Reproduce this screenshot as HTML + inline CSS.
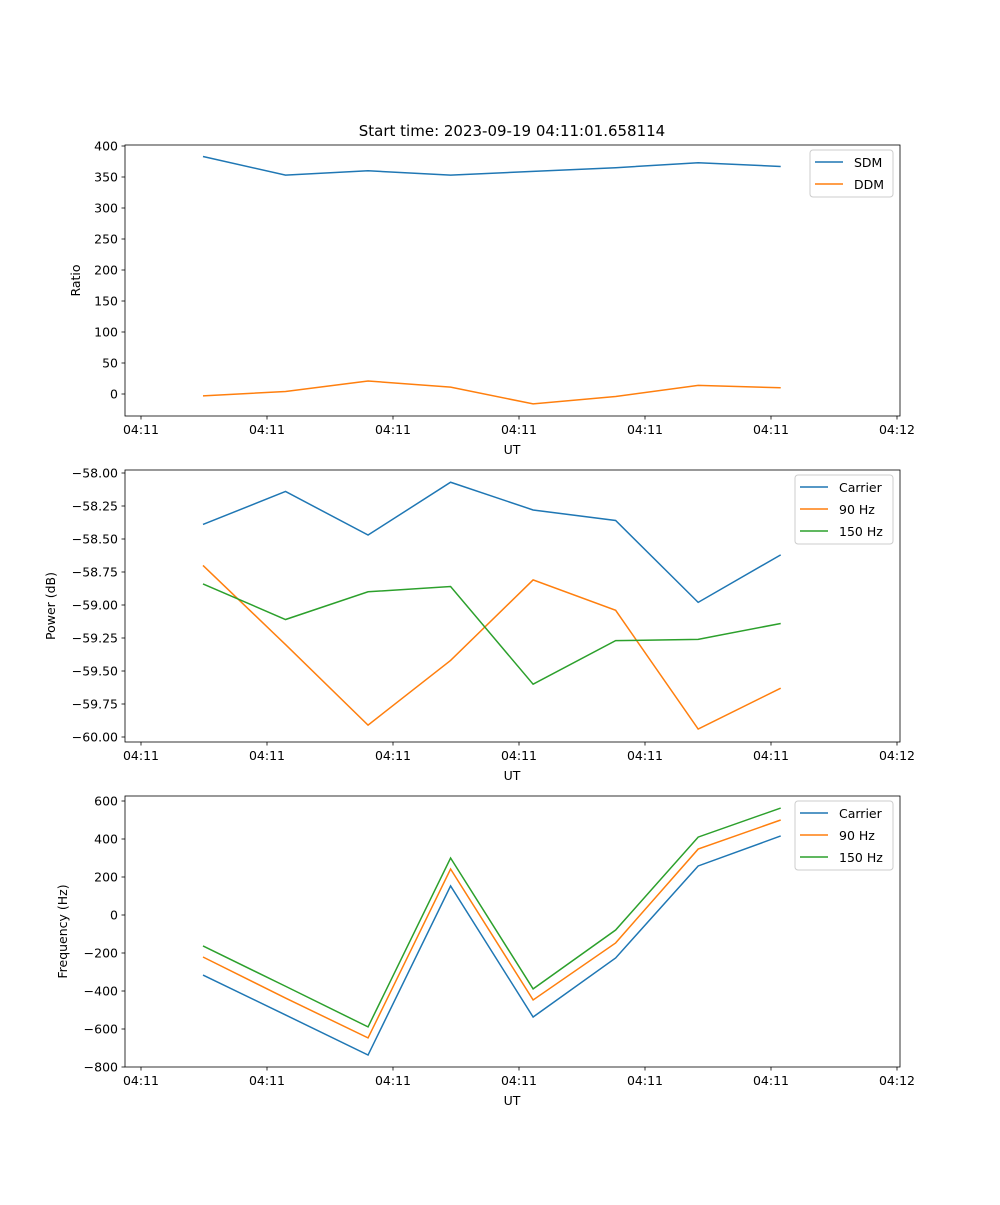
<!DOCTYPE html>
<html><head><meta charset="utf-8"><style>
body{margin:0;background:#fff}
svg text{font-family:"DejaVu Sans","Liberation Sans",sans-serif;font-size:12.5px;fill:#000}
</style></head><body>
<svg id="fig" width="1000" height="1200"></svg>
<script>
const xTickVals=[0,10,20,30,40,50,60];
const xTickLabels=["04:11","04:11","04:11","04:11","04:11","04:11","04:12"];
const times=[4.92,11.47,18.02,24.57,31.12,37.67,44.22,50.77];
const sdm=[383,353,360,353,359,365,373,367];
const ddm=[-3,4,21,11,-16,-4,14,10];
const powCarrier=[-58.39,-58.14,-58.47,-58.07,-58.28,-58.36,-58.98,-58.62];
const pow90=[-58.70,-59.30,-59.91,-59.42,-58.81,-59.04,-59.94,-59.63];
const pow150=[-58.84,-59.11,-58.90,-58.86,-59.60,-59.27,-59.26,-59.14];
const freqCarrier=[-316,-526,-737,153,-537,-226,258,416];
const freq90=[-221,-437,-647,242,-447,-147,347,500];
const freq150=[-163,-375,-589,300,-389,-79,410,563];
const ratioTicks=[0,50,100,150,200,250,300,350,400];
const powTicks=[-60,-59.75,-59.5,-59.25,-59,-58.75,-58.5,-58.25,-58];
const freqTicks=[-800,-600,-400,-200,0,200,400,600];

const NS="http://www.w3.org/2000/svg";
const svg=document.getElementById('fig');
function mk(tag,attrs,parent,txt){const e=document.createElementNS(NS,tag);for(const k in attrs)e.setAttribute(k,attrs[k]);if(txt!==undefined)e.textContent=txt;(parent||svg).appendChild(e);return e;}
const L=125,R=900;
const xs=t=>141+t*12.6;
function panel(name,top,bot,v0,p0,v1,p1,ticks,fmt,ylabel,ylx,series,legend){
  const g=mk('g',{});
  
  
  const ys=v=>p0+(v-v0)*(p1-p0)/(v1-v0);
  ticks.forEach(v=>{const y=ys(v);
    const l=mk('line',{x1:L-3.5,x2:L,y1:y,y2:y,stroke:'#000','stroke-width':0.8},g);
    
    const t=mk('text',{x:L-7,y:y+4.5,'text-anchor':'end'},g,fmt(v));
    });
  xTickVals.forEach((v,i)=>{const x=xs(v);
    const l=mk('line',{x1:x,x2:x,y1:bot,y2:bot+3.5,stroke:'#000','stroke-width':0.8},g);
    
    const t=mk('text',{x:x,y:bot+18,'text-anchor':'middle'},g,xTickLabels[i]);
    });
  series.forEach(s=>{
    const p=mk('polyline',{points:s.d.map((v,i)=>xs(times[i])+','+ys(v)).join(' '),fill:'none',stroke:s.c,'stroke-width':1.5},g);
    
    });
  const fr=mk('rect',{x:L,y:top,width:R-L,height:bot-top,fill:'none',stroke:'#000','stroke-width':0.8},g);
  
  const ux=mk('text',{x:512,y:bot+38,'text-anchor':'middle'},g,'UT');
  
  const yl=mk('text',{x:ylx,y:(top+bot)/2,'text-anchor':'middle',transform:`rotate(-90 ${ylx} ${(top+bot)/2})`},g,ylabel);
  
  const lg=mk('g',{},g);
  
  mk('rect',{x:legend.x,y:top+5,width:893-legend.x,height:series.length*22+3,rx:3,fill:'#fff',stroke:'#ccc','stroke-width':1},lg);
  series.forEach((s,i)=>{const y=top+17+i*22;
    const e=mk('g',{},lg);
    
    mk('line',{x1:legend.x+5,x2:legend.x+33,y1:y,y2:y,stroke:s.c,'stroke-width':1.5},e);
    mk('text',{x:legend.x+44,y:y+5},e,s.n);});
}
const C1='#1f77b4',C2='#ff7f0e',C3='#2ca02c';
panel('ratio',145,416,0,394,400,146,ratioTicks,v=>String(v),'Ratio',80,
  [{n:'SDM',d:sdm,c:C1},{n:'DDM',d:ddm,c:C2}],{x:810});
panel('power',470,742,-58,473,-60,737,powTicks,v=>'\u2212'+Math.abs(v).toFixed(2),'Power (dB)',55,
  [{n:'Carrier',d:powCarrier,c:C1},{n:'90 Hz',d:pow90,c:C2},{n:'150 Hz',d:pow150,c:C3}],{x:795});
panel('frequency',796,1067,0,915,600,801,freqTicks,v=>v<0?'\u2212'+Math.abs(v):String(v),'Frequency (Hz)',67,
  [{n:'Carrier',d:freqCarrier,c:C1},{n:'90 Hz',d:freq90,c:C2},{n:'150 Hz',d:freq150,c:C3}],{x:795});
const tt=mk('text',{x:512,y:136,'text-anchor':'middle',style:'font-size:15px'},svg,'Start time: 2023-09-19 04:11:01.658114');


</script>
</body></html>
